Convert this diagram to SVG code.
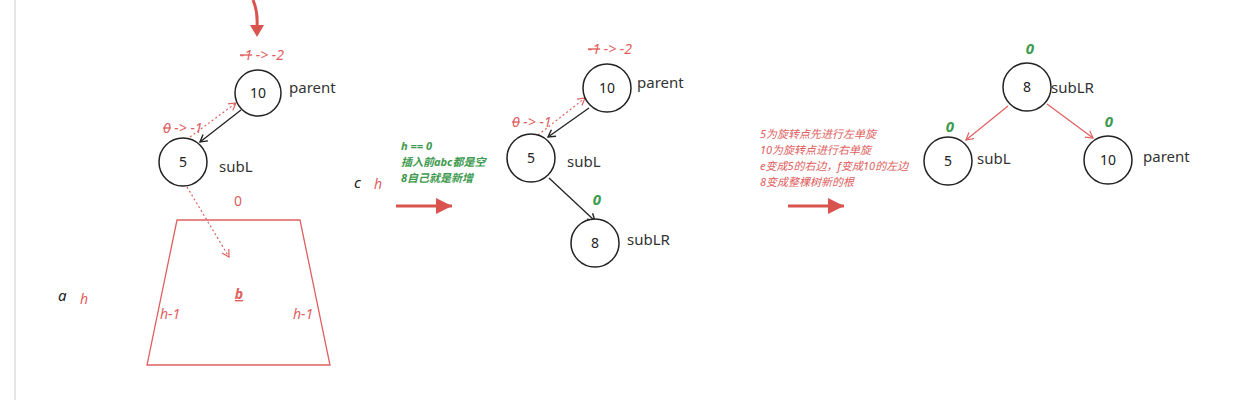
<svg xmlns="http://www.w3.org/2000/svg" width="1255" height="400" viewBox="0 0 1255 400">
<defs>
<marker id="ab" markerWidth="10" markerHeight="10" refX="8" refY="5" orient="auto" markerUnits="userSpaceOnUse"><path d="M1,1 L8,5 L1,9" fill="none" stroke="#222" stroke-width="1.4"/></marker>
<marker id="ar" markerWidth="10" markerHeight="10" refX="8" refY="5" orient="auto" markerUnits="userSpaceOnUse"><path d="M1,1 L8,5 L1,9" fill="none" stroke="#e06060" stroke-width="1.2"/></marker>
<marker id="abig" markerWidth="20" markerHeight="20" refX="16" refY="8" orient="auto" markerUnits="userSpaceOnUse"><path d="M0,0 L16,8 L0,16 Z" fill="#d9534f"/></marker>
<style>
.n{fill:#fff;stroke:#222;stroke-width:1.5}
.nt{font-family:"Noto Sans",sans-serif;font-size:14px;fill:#222;text-anchor:middle}
.lb{font-family:"Noto Sans",sans-serif;font-size:15px;fill:#333}
.ri{font-family:"Noto Sans",sans-serif;font-size:14px;fill:#e06060;font-style:italic}
.rn{font-family:"Noto Sans",sans-serif;font-size:14px;fill:#e06060;text-anchor:middle}
.gi{font-family:"Noto Sans","Noto Sans CJK SC",sans-serif;font-size:11px;fill:#3e9a4f;font-style:italic;font-weight:bold}
.g0{font-family:"Noto Sans",sans-serif;font-size:15px;fill:#3e9a4f;font-style:italic;font-weight:bold;text-anchor:middle}
.rc{font-family:"Noto Sans","Noto Sans CJK SC",sans-serif;font-size:11px;fill:#e06060;font-style:italic}
.bi{font-family:"Noto Sans",sans-serif;font-size:15px;fill:#222;font-style:italic}
.ce{stroke:#222;stroke-width:1.3;fill:none}
.cd{stroke:#e06060;stroke-width:1.2;fill:none;stroke-dasharray:2 2.5}
.cr{stroke:#e06060;stroke-width:1.2;fill:none}
.big{stroke:#d9534f;stroke-width:3;fill:none}
</style>
</defs>
<rect width="1255" height="400" fill="#fff"/>
<line x1="15" y1="0" x2="15" y2="400" stroke="#e6e6e6" stroke-width="2"/>

<g id="connectors">
<path d="M253,0 Q258,12 257,26" class="big"/>
<path d="M250,25 L264,25 L257,37 Z" fill="#d9534f"/>
<line x1="241" y1="110" x2="200" y2="142" class="ce" marker-end="url(#ab)"/>
<line x1="190" y1="137" x2="236" y2="103" class="cd" marker-end="url(#ar)"/>
<line x1="187" y1="187" x2="229" y2="257" class="cd" marker-end="url(#ar)"/>
<line x1="396" y1="206" x2="452" y2="206" class="big" marker-end="url(#abig)"/>
<line x1="589" y1="108" x2="548" y2="137" class="ce" marker-end="url(#ab)"/>
<line x1="538" y1="135" x2="585" y2="98" class="cd" marker-end="url(#ar)"/>
<line x1="549" y1="178" x2="595" y2="221" class="ce" marker-end="url(#ab)"/>
<line x1="788" y1="206" x2="844" y2="206" class="big" marker-end="url(#abig)"/>
<line x1="1008" y1="106" x2="966" y2="140" class="cr" marker-end="url(#ar)"/>
<line x1="1047" y1="104" x2="1093" y2="138" class="cr" marker-end="url(#ar)"/>
</g>

<g id="left-parent">
<circle cx="258" cy="93" r="23" class="n"/>
<text x="258" y="98" class="nt">10</text>
<text x="289" y="93" class="lb">parent</text>
<text x="240" y="60" class="ri"><tspan text-decoration="line-through">-1</tspan> -&gt; -2</text>
</g>
<g id="left-subL">
<circle cx="183" cy="162" r="24" class="n"/>
<text x="183" y="167" class="nt">5</text>
<text x="219" y="172" class="lb">subL</text>
<text x="163" y="133" class="ri"><tspan text-decoration="line-through">0</tspan> -&gt; -1</text>
</g>
<g id="left-b">
<path d="M177,220 L300,220 L330,365 L147,365 Z" fill="none" stroke="#e06060" stroke-width="1.3"/>
<text x="238" y="206" class="rn">0</text>
<text x="239" y="299" class="ri" font-weight="bold" text-anchor="middle" text-decoration="underline">b</text>
<text x="160" y="319" class="ri">h-1</text>
<text x="293" y="319" class="ri">h-1</text>
</g>
<g id="left-a">
<text x="58" y="301" class="bi">a</text>
<text x="80" y="304" class="ri" font-size="15">h</text>
</g>
<g id="left-c">
<text x="354" y="188" class="bi">c</text>
<text x="374" y="189" class="ri" font-size="15">h</text>
</g>
<g id="note1">
<text x="401" y="150" class="gi">h == 0</text>
<text x="401" y="166" class="gi">插入前abc都是空</text>
<text x="401" y="182" class="gi">8自己就是新增</text>
</g>

<g id="mid-parent">
<circle cx="607" cy="88" r="24" class="n"/>
<text x="607" y="93" class="nt">10</text>
<text x="637" y="88" class="lb">parent</text>
<text x="588" y="54" class="ri"><tspan text-decoration="line-through">-1</tspan> -&gt; -2</text>
</g>
<g id="mid-subL">
<circle cx="531" cy="158" r="24" class="n"/>
<text x="531" y="163" class="nt">5</text>
<text x="567" y="167" class="lb">subL</text>
<text x="512" y="127" class="ri"><tspan text-decoration="line-through">0</tspan> -&gt; -1</text>
</g>
<g id="mid-subLR">
<circle cx="595" cy="243" r="24" class="n"/>
<text x="595" y="248" class="nt">8</text>
<text x="627" y="245" class="lb">subLR</text>
<text x="597" y="205" class="g0">0</text>
</g>

<g id="note2">
<text x="760" y="138" class="rc">5为旋转点先进行左单旋</text>
<text x="760" y="154" class="rc">10为旋转点进行右单旋</text>
<text x="760" y="170" class="rc">e变成5的右边，f变成10的左边</text>
<text x="760" y="186" class="rc">8变成整棵树新的根</text>
</g>

<g id="right-subLR">
<circle cx="1027" cy="87" r="24" class="n"/>
<text x="1027" y="92" class="nt">8</text>
<text x="1051" y="93" class="lb">subLR</text>
<text x="1030" y="54" class="g0">0</text>
</g>
<g id="right-subL">
<circle cx="948" cy="161" r="24" class="n"/>
<text x="948" y="166" class="nt">5</text>
<text x="977" y="164" class="lb">subL</text>
<text x="950" y="132" class="g0">0</text>
</g>
<g id="right-parent">
<circle cx="1108" cy="160" r="24" class="n"/>
<text x="1108" y="165" class="nt">10</text>
<text x="1143" y="162" class="lb">parent</text>
<text x="1109" y="127" class="g0">0</text>
</g>
</svg>
